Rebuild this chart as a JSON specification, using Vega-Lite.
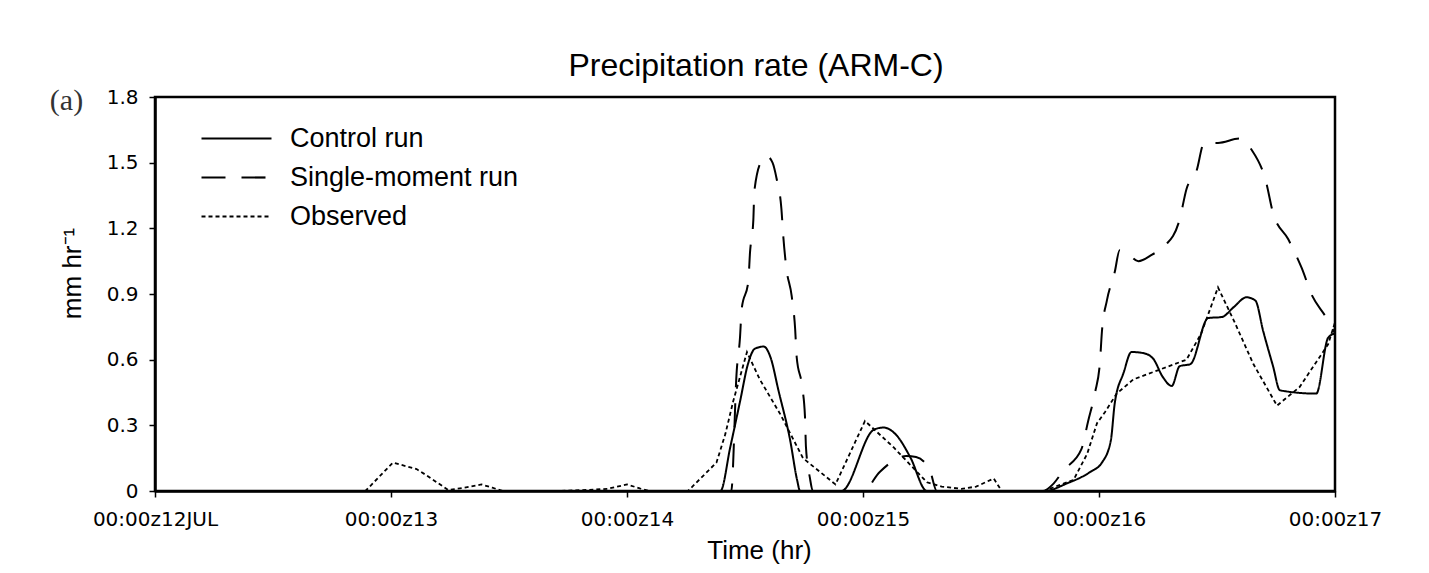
{
  "$schema": "https://vega.github.io/schema/vega-lite/v6.json",
  "autosize": {"type": "none"},
  "width": 1180,
  "height": 394,
  "padding": {"left": 155, "top": 97, "right": 94, "bottom": 82},
  "background": "white",
  "title": {"text": "Precipitation rate (ARM-C)", "font": "Liberation Sans", "fontSize": 32, "fontWeight": "normal", "color": "black", "anchor": "middle", "offset": 3, "dx": 11},
  "config": {
    "view": {"stroke": "black", "strokeWidth": 2.5},
    "axis": {"grid": false, "domainColor": "black", "domainWidth": 2.5, "tickColor": "black", "tickWidth": 1.5, "tickSize": 6,
      "labelColor": "black", "labelFont": "DejaVu Sans", "labelFontSize": 20, "titleColor": "black", "titleFont": "Liberation Sans", "titleFontSize": 26, "titleFontWeight": "normal"}
  },
  "datasets": {
    "precip": [
      {"series": "Observed", "h": 0, "v": 0},
      {"series": "Observed", "h": 21.4, "v": 0},
      {"series": "Observed", "h": 24.2, "v": 0.13},
      {"series": "Observed", "h": 26.6, "v": 0.10},
      {"series": "Observed", "h": 27.6, "v": 0.072},
      {"series": "Observed", "h": 29.8, "v": 0.005},
      {"series": "Observed", "h": 31.5, "v": 0.015},
      {"series": "Observed", "h": 33.2, "v": 0.03},
      {"series": "Observed", "h": 34.3, "v": 0.015},
      {"series": "Observed", "h": 35.4, "v": 0},
      {"series": "Observed", "h": 40.8, "v": 0},
      {"series": "Observed", "h": 44.0, "v": 0.005},
      {"series": "Observed", "h": 46.0, "v": 0.01},
      {"series": "Observed", "h": 48.0, "v": 0.03},
      {"series": "Observed", "h": 49.3, "v": 0.012},
      {"series": "Observed", "h": 50.3, "v": 0},
      {"series": "Observed", "h": 54.2, "v": 0},
      {"series": "Observed", "h": 57.1, "v": 0.13},
      {"series": "Observed", "h": 58.0, "v": 0.26},
      {"series": "Observed", "h": 58.8, "v": 0.41},
      {"series": "Observed", "h": 60.2, "v": 0.635},
      {"series": "Observed", "h": 61.5, "v": 0.51},
      {"series": "Observed", "h": 63.6, "v": 0.35},
      {"series": "Observed", "h": 65.9, "v": 0.15},
      {"series": "Observed", "h": 69.2, "v": 0.03},
      {"series": "Observed", "h": 72.2, "v": 0.32},
      {"series": "Observed", "h": 75.1, "v": 0.20},
      {"series": "Observed", "h": 78.5, "v": 0.04},
      {"series": "Observed", "h": 80.0, "v": 0.02},
      {"series": "Observed", "h": 82.0, "v": 0.01},
      {"series": "Observed", "h": 83.5, "v": 0.02},
      {"series": "Observed", "h": 85.3, "v": 0.057},
      {"series": "Observed", "h": 86.1, "v": 0},
      {"series": "Observed", "h": 90.4, "v": 0},
      {"series": "Observed", "h": 91.9, "v": 0.026},
      {"series": "Observed", "h": 93.4, "v": 0.05},
      {"series": "Observed", "h": 94.1, "v": 0.11},
      {"series": "Observed", "h": 94.8, "v": 0.17},
      {"series": "Observed", "h": 95.8, "v": 0.31},
      {"series": "Observed", "h": 96.6, "v": 0.36},
      {"series": "Observed", "h": 97.8, "v": 0.445},
      {"series": "Observed", "h": 99.5, "v": 0.51},
      {"series": "Observed", "h": 101.9, "v": 0.55},
      {"series": "Observed", "h": 104.9, "v": 0.60},
      {"series": "Observed", "h": 106.4, "v": 0.72},
      {"series": "Observed", "h": 108.1, "v": 0.93},
      {"series": "Observed", "h": 109.7, "v": 0.78},
      {"series": "Observed", "h": 111.7, "v": 0.58},
      {"series": "Observed", "h": 114.1, "v": 0.39},
      {"series": "Observed", "h": 116.4, "v": 0.475},
      {"series": "Observed", "h": 119.3, "v": 0.67},
      {"series": "Observed", "h": 120, "v": 0.77},

      {"series": "Control run", "h": 0, "v": 0},
      {"series": "Control run", "h": 57.5, "v": 0},
      {"series": "Control run", "h": 58.5, "v": 0.20},
      {"series": "Control run", "h": 59.5, "v": 0.41},
      {"series": "Control run", "h": 60.3, "v": 0.58},
      {"series": "Control run", "h": 61.0, "v": 0.65},
      {"series": "Control run", "h": 61.9, "v": 0.66},
      {"series": "Control run", "h": 62.6, "v": 0.61},
      {"series": "Control run", "h": 63.4, "v": 0.46},
      {"series": "Control run", "h": 64.6, "v": 0.23},
      {"series": "Control run", "h": 65.3, "v": 0.05},
      {"series": "Control run", "h": 65.6, "v": 0},
      {"series": "Control run", "h": 69.8, "v": 0},
      {"series": "Control run", "h": 73.1, "v": 0.28},
      {"series": "Control run", "h": 74.1, "v": 0.29},
      {"series": "Control run", "h": 75.4, "v": 0.255},
      {"series": "Control run", "h": 76.8, "v": 0.155},
      {"series": "Control run", "h": 78.5, "v": 0},
      {"series": "Control run", "h": 90.5, "v": 0},
      {"series": "Control run", "h": 92.7, "v": 0.034},
      {"series": "Control run", "h": 95.1, "v": 0.087},
      {"series": "Control run", "h": 96.3, "v": 0.13},
      {"series": "Control run", "h": 97.2, "v": 0.23},
      {"series": "Control run", "h": 97.6, "v": 0.40},
      {"series": "Control run", "h": 98.5, "v": 0.54},
      {"series": "Control run", "h": 99.3, "v": 0.635},
      {"series": "Control run", "h": 100.5, "v": 0.63},
      {"series": "Control run", "h": 101.5, "v": 0.605},
      {"series": "Control run", "h": 102.5, "v": 0.52},
      {"series": "Control run", "h": 103.4, "v": 0.48},
      {"series": "Control run", "h": 104.2, "v": 0.57},
      {"series": "Control run", "h": 105.3, "v": 0.58},
      {"series": "Control run", "h": 107.1, "v": 0.79},
      {"series": "Control run", "h": 108.5, "v": 0.795},
      {"series": "Control run", "h": 109.7, "v": 0.84},
      {"series": "Control run", "h": 111.0, "v": 0.885},
      {"series": "Control run", "h": 111.9, "v": 0.87},
      {"series": "Control run", "h": 112.7, "v": 0.73},
      {"series": "Control run", "h": 113.7, "v": 0.57},
      {"series": "Control run", "h": 114.4, "v": 0.46},
      {"series": "Control run", "h": 118.1, "v": 0.445},
      {"series": "Control run", "h": 119.3, "v": 0.70},
      {"series": "Control run", "h": 120, "v": 0.72},

      {"series": "Single-moment run", "h": 0, "v": 0},
      {"series": "Single-moment run", "h": 58.6, "v": 0},
      {"series": "Single-moment run", "h": 59.16, "v": 0.55},
      {"series": "Single-moment run", "h": 59.49, "v": 0.70},
      {"series": "Single-moment run", "h": 59.66, "v": 0.83},
      {"series": "Single-moment run", "h": 60.34, "v": 0.96},
      {"series": "Single-moment run", "h": 60.51, "v": 1.09},
      {"series": "Single-moment run", "h": 60.85, "v": 1.24},
      {"series": "Single-moment run", "h": 60.95, "v": 1.37},
      {"series": "Single-moment run", "h": 61.7, "v": 1.51},
      {"series": "Single-moment run", "h": 62.2, "v": 1.53},
      {"series": "Single-moment run", "h": 62.8, "v": 1.50},
      {"series": "Single-moment run", "h": 63.2, "v": 1.43},
      {"series": "Single-moment run", "h": 63.7, "v": 1.29},
      {"series": "Single-moment run", "h": 63.9, "v": 1.16},
      {"series": "Single-moment run", "h": 64.2, "v": 1.02},
      {"series": "Single-moment run", "h": 64.75, "v": 0.89},
      {"series": "Single-moment run", "h": 65.1, "v": 0.74},
      {"series": "Single-moment run", "h": 65.26, "v": 0.61},
      {"series": "Single-moment run", "h": 65.8, "v": 0.48},
      {"series": "Single-moment run", "h": 66.1, "v": 0.34},
      {"series": "Single-moment run", "h": 66.2, "v": 0.20},
      {"series": "Single-moment run", "h": 66.6, "v": 0.06},
      {"series": "Single-moment run", "h": 66.9, "v": 0},
      {"series": "Single-moment run", "h": 72.0, "v": 0},
      {"series": "Single-moment run", "h": 73.7, "v": 0.087},
      {"series": "Single-moment run", "h": 76.4, "v": 0.16},
      {"series": "Single-moment run", "h": 77.4, "v": 0.155},
      {"series": "Single-moment run", "h": 78.8, "v": 0.095},
      {"series": "Single-moment run", "h": 79.5, "v": 0},
      {"series": "Single-moment run", "h": 90.3, "v": 0},
      {"series": "Single-moment run", "h": 91.4, "v": 0.035},
      {"series": "Single-moment run", "h": 92.4, "v": 0.095},
      {"series": "Single-moment run", "h": 94.2, "v": 0.19},
      {"series": "Single-moment run", "h": 94.9, "v": 0.32},
      {"series": "Single-moment run", "h": 95.6, "v": 0.45},
      {"series": "Single-moment run", "h": 96.1, "v": 0.59},
      {"series": "Single-moment run", "h": 96.3, "v": 0.73},
      {"series": "Single-moment run", "h": 96.8, "v": 0.87},
      {"series": "Single-moment run", "h": 97.6, "v": 1.00},
      {"series": "Single-moment run", "h": 98.1, "v": 1.10},
      {"series": "Single-moment run", "h": 98.8, "v": 1.09},
      {"series": "Single-moment run", "h": 100.0, "v": 1.05},
      {"series": "Single-moment run", "h": 101.4, "v": 1.08},
      {"series": "Single-moment run", "h": 102.7, "v": 1.12},
      {"series": "Single-moment run", "h": 104.2, "v": 1.24},
      {"series": "Single-moment run", "h": 104.9, "v": 1.38},
      {"series": "Single-moment run", "h": 105.9, "v": 1.46},
      {"series": "Single-moment run", "h": 106.7, "v": 1.59},
      {"series": "Single-moment run", "h": 108.1, "v": 1.59},
      {"series": "Single-moment run", "h": 110.3, "v": 1.61},
      {"series": "Single-moment run", "h": 111.5, "v": 1.56},
      {"series": "Single-moment run", "h": 113.0, "v": 1.41},
      {"series": "Single-moment run", "h": 113.7, "v": 1.27},
      {"series": "Single-moment run", "h": 115.25, "v": 1.15},
      {"series": "Single-moment run", "h": 116.6, "v": 1.02},
      {"series": "Single-moment run", "h": 117.7, "v": 0.89},
      {"series": "Single-moment run", "h": 119.0, "v": 0.80},
      {"series": "Single-moment run", "h": 120, "v": 0.72}
    ],
    "panel": [{"label": "(a)"}]
  },
  "layer": [
    {
      "data": {"name": "precip"},
      "transform": [{"filter": "datum.series == 'Observed'"}],
      "mark": {"type": "line", "color": "black", "strokeWidth": 1.8, "interpolate": "linear"},
      "encoding": {
        "x": {"field": "h", "type": "quantitative",
          "scale": {"domain": [0, 120], "nice": false, "zero": false},
          "axis": {"values": [0, 24, 48, 72, 96, 120], "title": "Time (hr)", "labelPadding": 12, "labelOverlap": false, "labelBound": false, "labelFlush": false,
            "labelExpr": "datum.value == 0 ? '00:00z12JUL' : '00:00z' + (12 + datum.value / 24)", "titlePadding": 8, "titleX": 604}},
        "y": {"field": "v", "type": "quantitative",
          "scale": {"domain": [0, 1.8], "nice": false},
          "axis": {"values": [0, 0.3, 0.6, 0.9, 1.2, 1.5, 1.8], "title": "mm hr⁻¹", "labelPadding": 11,
            "labelExpr": "datum.value == 0 ? '0' : format(datum.value, '.1f')", "titleX": -83, "titleY": 176, "titleBaseline": "middle", "titleAlign": "center"}},
        "strokeDash": {"field": "series", "type": "nominal",
          "scale": {"domain": ["Control run", "Single-moment run", "Observed"], "range": [[1, 0], [24, 16], [4, 3]]},
          "legend": {"title": null, "orient": "none", "legendX": 66, "legendY": 26, "symbolType": "M-2.5,0H2.5", "symbolSize": 784,
            "symbolStrokeWidth": 2.2, "symbolStrokeColor": "black", "labelFont": "Liberation Sans", "labelFontSize": 27, "labelColor": "black",
            "labelLimit": 500, "rowPadding": 10, "labelOffset": 38, "padding": 0}}
      }
    },
    {
      "data": {"name": "precip"},
      "transform": [{"filter": "datum.series != 'Observed'"}],
      "mark": {"type": "line", "color": "black", "strokeWidth": 2, "interpolate": "monotone"},
      "encoding": {
        "x": {"field": "h", "type": "quantitative"},
        "y": {"field": "v", "type": "quantitative"},
        "strokeDash": {"field": "series", "type": "nominal"},
        "detail": {"field": "series"}
      }
    },
    {
      "data": {"name": "panel"},
      "mark": {"type": "text", "font": "Liberation Serif", "fontSize": 30, "color": "#333333", "align": "center", "baseline": "middle", "clip": false},
      "encoding": {
        "x": {"datum": -9, "type": "quantitative"},
        "y": {"datum": 1.78, "type": "quantitative"},
        "text": {"field": "label", "type": "nominal"}
      }
    }
  ]
}
